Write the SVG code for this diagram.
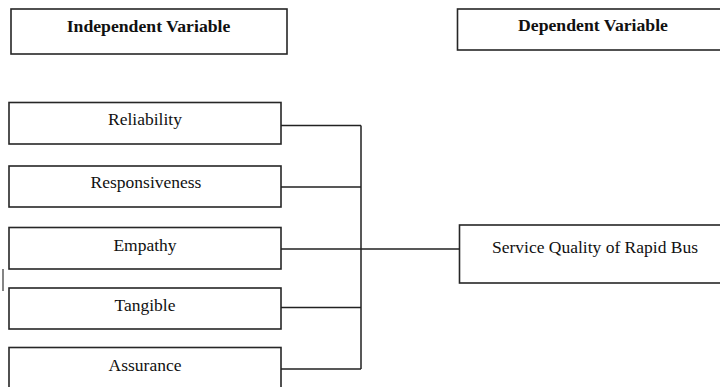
<svg xmlns="http://www.w3.org/2000/svg" width="720" height="387" viewBox="0 0 720 387">
<style>
.box{fill:#fff;stroke:#262626;stroke-width:1.6}
.t{font-family:'Liberation Serif','Times New Roman','DejaVu Serif',serif;font-size:17.5px;fill:#111;text-anchor:middle}
.h{font-family:'Liberation Serif','Times New Roman','DejaVu Serif',serif;font-size:17.7px;font-weight:bold;fill:#111;text-anchor:middle}
.c{fill:none;stroke:#222;stroke-width:1.5}
</style>
<rect width="720" height="387" fill="#fff"/>
<g id="independent-header"><rect class="box" x="11" y="9" width="276" height="45"/><text class="h" x="148.5" y="32">Independent Variable</text></g>
<g id="dependent-header"><rect class="box" x="457.5" y="9" width="266" height="41"/><text class="h" x="593" y="31">Dependent Variable</text></g>
<g id="reliability"><rect class="box" x="9" y="102.5" width="272" height="41.5"/><text class="t" x="145" y="125">Reliability</text></g>
<g id="responsiveness"><rect class="box" x="9" y="166" width="272" height="41"/><text class="t" x="146" y="188">Responsiveness</text></g>
<g id="empathy"><rect class="box" x="9" y="227.5" width="272" height="41.5"/><text class="t" x="145" y="251">Empathy</text></g>
<g id="tangible"><rect class="box" x="9" y="288" width="272" height="41"/><text class="t" x="145" y="311">Tangible</text></g>
<g id="assurance"><rect class="box" x="9" y="347.5" width="272" height="50"/><text class="t" x="145" y="371">Assurance</text></g>
<g id="service-quality"><rect class="box" x="459.5" y="225" width="264" height="58"/><text class="t" x="595" y="253">Service Quality of Rapid Bus</text></g>
<g id="connectors">
<path class="c" d="M281 125.5H361M281 187H361M281 249H459.5M281 307.5H361M281 369H361M361 125.5V369"/>
<line x1="3" y1="269" x2="3" y2="291" stroke="#333" stroke-width="1.2"/>
</g>
</svg>
